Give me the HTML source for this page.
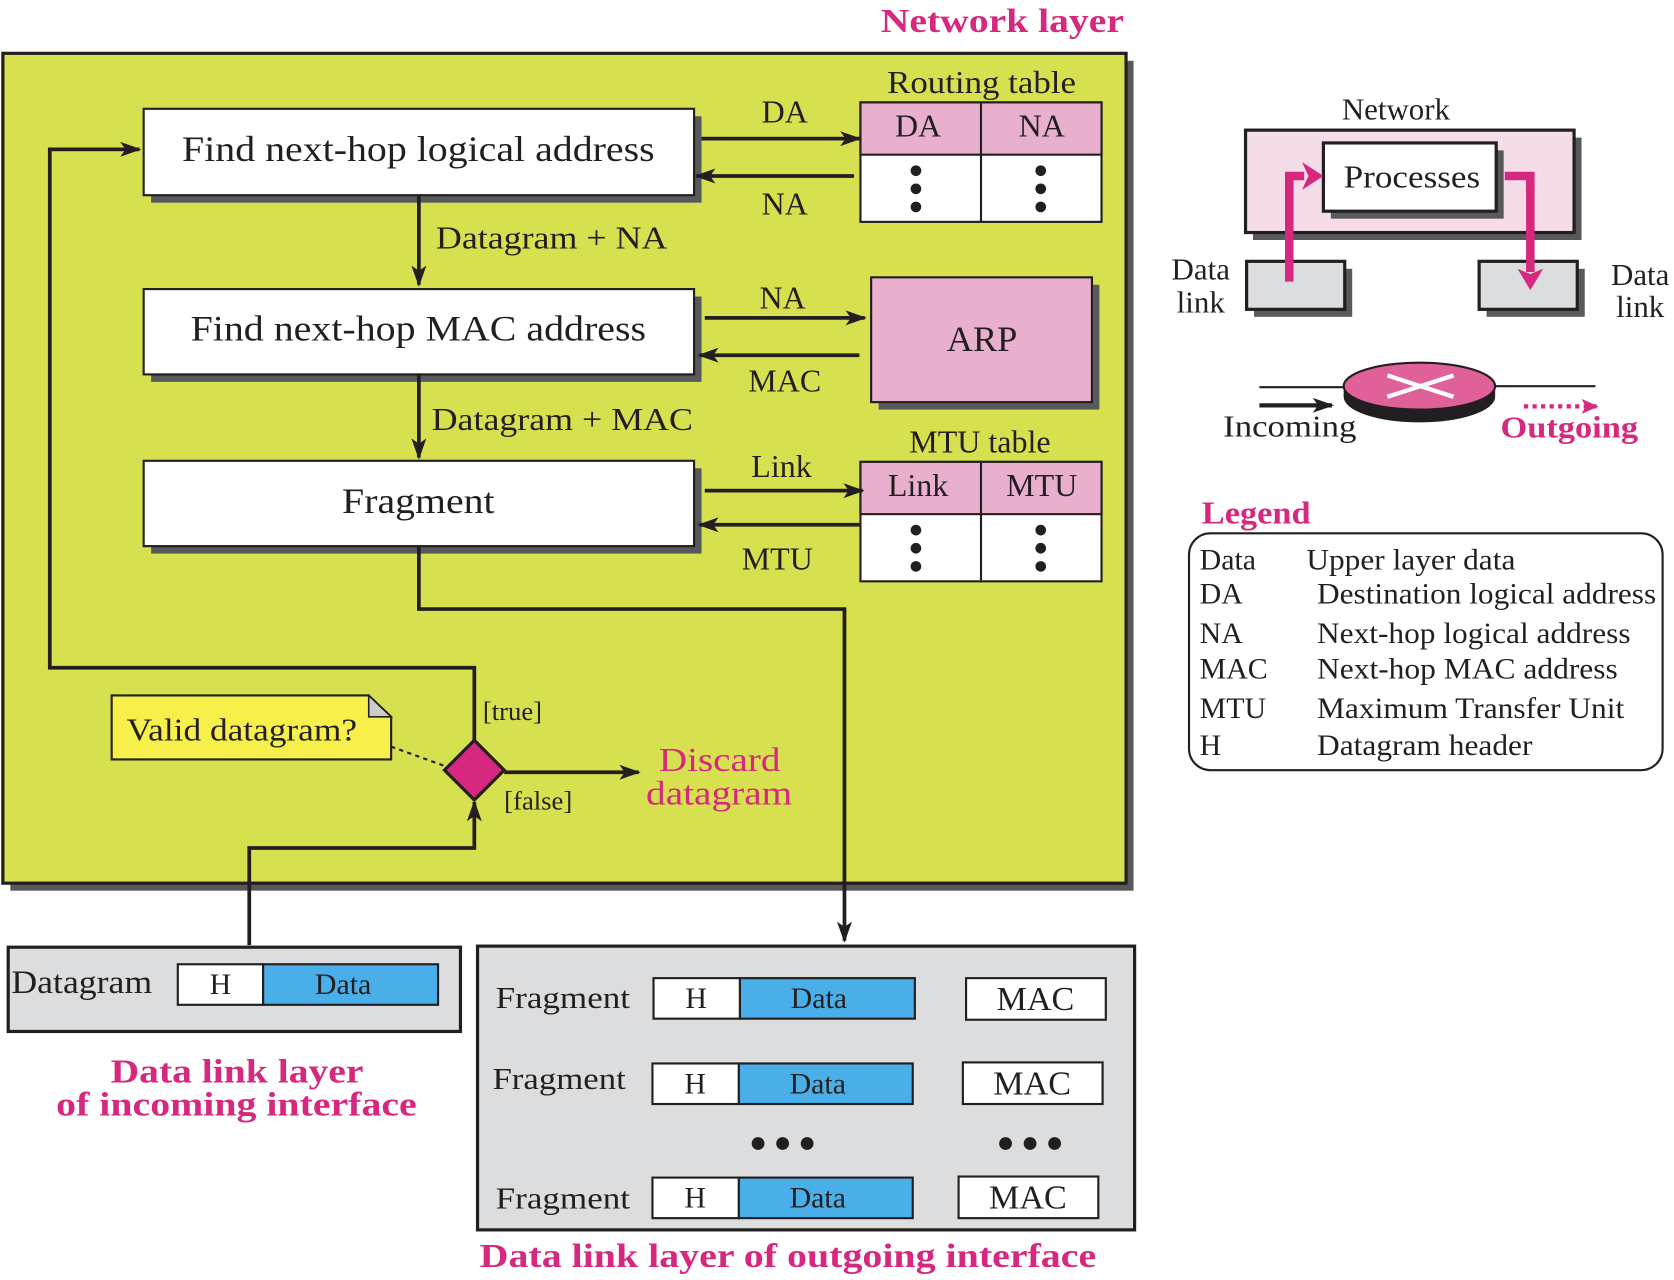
<!DOCTYPE html>
<html><head><meta charset="utf-8"><style>
html,body{margin:0;padding:0;background:#fff;overflow:hidden}
svg{display:block}
text{font-family:"Liberation Serif",serif;fill:#231f20}
.m{fill:#d6287f;font-weight:bold}
</style></head><body>
<svg width="1674" height="1280" viewBox="0 0 1568 1200" xmlns="http://www.w3.org/2000/svg">
<defs>
<marker id="ab" markerWidth="20" markerHeight="14" refX="18" refY="7" orient="auto" markerUnits="userSpaceOnUse" viewBox="0 0 20 14"><path d="M0,0 L20,7 L0,14 L5,7z" fill="#231f20"/></marker>
<marker id="am" markerWidth="16" markerHeight="14" refX="15" refY="7" orient="auto" markerUnits="userSpaceOnUse" viewBox="0 0 16 14"><path d="M0,0 L16,7 L0,14 L4,7z" fill="#d6287f"/></marker>
</defs>
<text x="825" y="30" class="m" font-size="32" textLength="228" lengthAdjust="spacingAndGlyphs">Network layer</text>
<rect x="9" y="57" width="1053" height="778" fill="#58595b"/>
<rect x="2" y="50" width="1053" height="778" fill="#d7e04e" stroke="#231f20" stroke-width="3"/>
<g stroke="#231f20" stroke-width="2">
<rect x="141" y="109" width="516" height="81" fill="#58595b" stroke="none"/>
<rect x="134" y="102" width="516" height="81" fill="#fff"/>
<rect x="141" y="278" width="516" height="80" fill="#58595b" stroke="none"/>
<rect x="134" y="271" width="516" height="80" fill="#fff"/>
<rect x="141" y="439" width="516" height="80" fill="#58595b" stroke="none"/>
<rect x="134" y="432" width="516" height="80" fill="#fff"/>
<rect x="823" y="267" width="207" height="117" fill="#58595b" stroke="none"/>
<rect x="816" y="260" width="207" height="117" fill="#e8b0cc"/>
<rect x="806" y="96" width="226" height="112" fill="#fff"/>
<rect x="806" y="96" width="226" height="49" fill="#e8b0cc"/>
<line x1="919" y1="96" x2="919" y2="208"/>
<rect x="806" y="433" width="226" height="112" fill="#fff"/>
<rect x="806" y="433" width="226" height="49" fill="#e8b0cc"/>
<line x1="919" y1="433" x2="919" y2="545"/>
</g>
<g font-size="34">
<text x="170" y="151" textLength="443" lengthAdjust="spacingAndGlyphs">Find next-hop logical address</text>
<text x="178" y="319" textLength="427" lengthAdjust="spacingAndGlyphs">Find next-hop MAC address</text>
<text x="320" y="481" textLength="143" lengthAdjust="spacingAndGlyphs">Fragment</text>
<text x="920" y="329" text-anchor="middle">ARP</text>
</g>
<g font-size="30" text-anchor="middle">
<text x="831" y="87" text-anchor="start" textLength="177" lengthAdjust="spacingAndGlyphs">Routing table</text><text x="918" y="424">MTU table</text>
<text x="860" y="128">DA</text><text x="976" y="128">NA</text>
<text x="860" y="465">Link</text><text x="976" y="465">MTU</text>
<text x="735" y="115">DA</text><text x="735" y="201">NA</text>
<text x="733" y="289">NA</text><text x="735" y="367">MAC</text>
<text x="732" y="447">Link</text><text x="728" y="534">MTU</text>
</g>
<g fill="#231f20">
<circle cx="858" cy="160" r="5"/><circle cx="858" cy="177" r="5"/><circle cx="858" cy="194" r="5"/>
<circle cx="975" cy="160" r="5"/><circle cx="975" cy="177" r="5"/><circle cx="975" cy="194" r="5"/>
<circle cx="858" cy="497" r="5"/><circle cx="858" cy="514" r="5"/><circle cx="858" cy="531" r="5"/>
<circle cx="975" cy="497" r="5"/><circle cx="975" cy="514" r="5"/><circle cx="975" cy="531" r="5"/>
</g>
<g stroke="#231f20" stroke-width="3.5" fill="none">
<line x1="657" y1="130" x2="805" y2="130" marker-end="url(#ab)"/>
<line x1="800" y1="165" x2="652" y2="165" marker-end="url(#ab)"/>
<line x1="660" y1="298" x2="810" y2="298" marker-end="url(#ab)"/>
<line x1="805" y1="333" x2="655" y2="333" marker-end="url(#ab)"/>
<line x1="660" y1="460" x2="808" y2="460" marker-end="url(#ab)"/>
<line x1="805" y1="492" x2="655" y2="492" marker-end="url(#ab)"/>
<line x1="392" y1="183" x2="392" y2="267" marker-end="url(#ab)"/>
<line x1="392" y1="351" x2="392" y2="429" marker-end="url(#ab)"/>
<polyline points="392,512 392,571 791,571 791,882" marker-end="url(#ab)"/>
<polyline points="444,695 444,626 46,626 46,140 130,140" marker-end="url(#ab)"/>
<polyline points="233,886 233,795 444,795 444,752" marker-end="url(#ab)"/>
<line x1="472" y1="724" x2="598" y2="724" marker-end="url(#ab)"/>
</g>
<text x="408" y="233" font-size="30" textLength="217" lengthAdjust="spacingAndGlyphs">Datagram + NA</text>
<text x="404" y="403" font-size="30" textLength="245" lengthAdjust="spacingAndGlyphs">Datagram + MAC</text>
<path d="M104,652 H345 L366,672 V712 H104Z" fill="#f7f04a" stroke="#231f20" stroke-width="2"/>
<path d="M345,652 V672 H366Z" fill="#ccc" stroke="#231f20" stroke-width="1.5"/>
<text x="118" y="694" font-size="30" textLength="216" lengthAdjust="spacingAndGlyphs">Valid datagram?</text>
<line x1="366" y1="700" x2="416" y2="718" stroke="#231f20" stroke-width="2" stroke-dasharray="4,4"/>
<path d="M444,694 L472,722 L444,750 L416,722Z" fill="#d6287f" stroke="#231f20" stroke-width="3"/>
<text x="452" y="675" font-size="25">[true]</text>
<text x="472" y="759" font-size="25">[false]</text>
<text x="617" y="723" font-size="32" style="fill:#d6287f" textLength="114" lengthAdjust="spacingAndGlyphs">Discard</text>
<text x="605" y="754" font-size="32" style="fill:#d6287f" textLength="137" lengthAdjust="spacingAndGlyphs">datagram</text>
<rect x="7" y="888" width="424" height="79" fill="#dcdddf" stroke="#231f20" stroke-width="3"/>
<text x="10" y="931" font-size="31" textLength="132" lengthAdjust="spacingAndGlyphs">Datagram</text>
<rect x="166" y="904" width="80" height="38" fill="#fff" stroke="#231f20" stroke-width="2"/>
<rect x="246" y="904" width="164" height="38" fill="#4aaee8" stroke="#231f20" stroke-width="2"/>
<text x="206" y="932" font-size="28" text-anchor="middle">H</text><text x="321" y="932" font-size="28" text-anchor="middle">Data</text>
<text x="103" y="1015" class="m" font-size="32" textLength="237" lengthAdjust="spacingAndGlyphs">Data link layer</text>
<text x="52" y="1046" class="m" font-size="32" textLength="338" lengthAdjust="spacingAndGlyphs">of incoming interface</text>
<rect x="447" y="887" width="616" height="266" fill="#dcdddf" stroke="#231f20" stroke-width="3"/>
<g font-size="29">
<text x="464" y="945" textLength="126" lengthAdjust="spacingAndGlyphs">Fragment</text><text x="461" y="1021" textLength="125" lengthAdjust="spacingAndGlyphs">Fragment</text><text x="464" y="1133" textLength="126" lengthAdjust="spacingAndGlyphs">Fragment</text>
</g>
<g stroke="#231f20" stroke-width="2">
<rect x="612" y="917" width="81" height="38" fill="#fff"/><rect x="693" y="917" width="164" height="38" fill="#4aaee8"/>
<rect x="905" y="917" width="131" height="39" fill="#fff"/>
<rect x="611" y="997" width="81" height="38" fill="#fff"/><rect x="692" y="997" width="163" height="38" fill="#4aaee8"/>
<rect x="902" y="996" width="131" height="39" fill="#fff"/>
<rect x="611" y="1104" width="81" height="38" fill="#fff"/><rect x="692" y="1104" width="163" height="38" fill="#4aaee8"/>
<rect x="898" y="1103" width="131" height="39" fill="#fff"/>
</g>
<g font-size="28" text-anchor="middle">
<text x="652" y="945">H</text><text x="767" y="945">Data</text><text x="970" y="947" font-size="32">MAC</text>
<text x="651" y="1025">H</text><text x="766" y="1025">Data</text><text x="967" y="1026" font-size="32">MAC</text>
<text x="651" y="1132">H</text><text x="766" y="1132">Data</text><text x="963" y="1133" font-size="32">MAC</text>
</g>
<g fill="#231f20"><circle cx="710" cy="1072" r="6"/><circle cx="733" cy="1072" r="6"/><circle cx="756" cy="1072" r="6"/>
<circle cx="942" cy="1072" r="6"/><circle cx="965" cy="1072" r="6"/><circle cx="988" cy="1072" r="6"/></g>
<text x="449" y="1188" class="m" font-size="32" textLength="578" lengthAdjust="spacingAndGlyphs">Data link layer of outgoing interface</text>
<!-- right side -->
<text x="1308" y="112" font-size="29" text-anchor="middle">Network</text>
<rect x="1174" y="129" width="308" height="96" fill="#58595b"/>
<rect x="1167" y="122" width="308" height="96" fill="#f4dce8" stroke="#231f20" stroke-width="3"/>
<rect x="1247" y="141" width="162" height="64" fill="#58595b"/>
<rect x="1240" y="134" width="162" height="64" fill="#fff" stroke="#231f20" stroke-width="3"/>
<text x="1259" y="176" font-size="30" textLength="128" lengthAdjust="spacingAndGlyphs">Processes</text>
<rect x="1175" y="252" width="92" height="45" fill="#58595b"/>
<rect x="1168" y="245" width="92" height="45" fill="#dcdddf" stroke="#231f20" stroke-width="3"/>
<rect x="1393" y="252" width="92" height="45" fill="#58595b"/>
<rect x="1386" y="245" width="92" height="45" fill="#dcdddf" stroke="#231f20" stroke-width="3"/>
<polyline points="1208,264 1208,165 1222,165" fill="none" stroke="#d6287f" stroke-width="8"/>
<path d="M1220,152 L1240,165 L1220,178 L1226,165Z" fill="#d6287f"/>
<polyline points="1410,165 1434,165 1434,255" fill="none" stroke="#d6287f" stroke-width="8"/>
<path d="M1422,252 L1434,272 L1446,252 L1434,257Z" fill="#d6287f"/>
<g font-size="29" text-anchor="middle">
<text x="1125" y="262">Data</text><text x="1125" y="293">link</text>
<text x="1537" y="267">Data</text><text x="1537" y="297">link</text>
</g>
<line x1="1180" y1="363" x2="1265" y2="363" stroke="#231f20" stroke-width="2"/>
<line x1="1395" y1="362" x2="1495" y2="362" stroke="#231f20" stroke-width="2"/>
<ellipse cx="1330" cy="372" rx="71" ry="24" fill="#231f20"/>
<rect x="1259" y="362" width="142" height="10" fill="#231f20"/>
<ellipse cx="1330" cy="362" rx="71" ry="22" fill="#e0609a" stroke="#231f20" stroke-width="2"/>
<g stroke="#fff" stroke-width="4"><line x1="1300" y1="352" x2="1362" y2="372"/><line x1="1300" y1="372" x2="1362" y2="352"/></g>
<line x1="1180" y1="380" x2="1248" y2="380" stroke="#231f20" stroke-width="4" marker-end="url(#ab)"/>
<line x1="1428" y1="381" x2="1497" y2="381" stroke="#d6287f" stroke-width="4" stroke-dasharray="4,4" marker-end="url(#am)"/>
<text x="1146" y="409" font-size="29" textLength="125" lengthAdjust="spacingAndGlyphs">Incoming</text>
<text x="1406" y="410" class="m" font-size="29" textLength="129" lengthAdjust="spacingAndGlyphs">Outgoing</text>
<text x="1126" y="491" class="m" font-size="30" textLength="102" lengthAdjust="spacingAndGlyphs">Legend</text>
<rect x="1114" y="500" width="444" height="222" rx="20" fill="#fff" stroke="#231f20" stroke-width="2"/>
<g font-size="28">
<text x="1124" y="534">Data</text><text x="1224" y="534" textLength="196" lengthAdjust="spacingAndGlyphs">Upper layer data</text>
<text x="1124" y="566">DA</text><text x="1234" y="566" textLength="318" lengthAdjust="spacingAndGlyphs">Destination logical address</text>
<text x="1124" y="603">NA</text><text x="1234" y="603" textLength="294" lengthAdjust="spacingAndGlyphs">Next-hop logical address</text>
<text x="1124" y="636">MAC</text><text x="1234" y="636" textLength="282" lengthAdjust="spacingAndGlyphs">Next-hop MAC address</text>
<text x="1124" y="673">MTU</text><text x="1234" y="673" textLength="288" lengthAdjust="spacingAndGlyphs">Maximum Transfer Unit</text>
<text x="1124" y="708">H</text><text x="1234" y="708" textLength="202" lengthAdjust="spacingAndGlyphs">Datagram header</text>
</g>
</svg>
</body></html>
